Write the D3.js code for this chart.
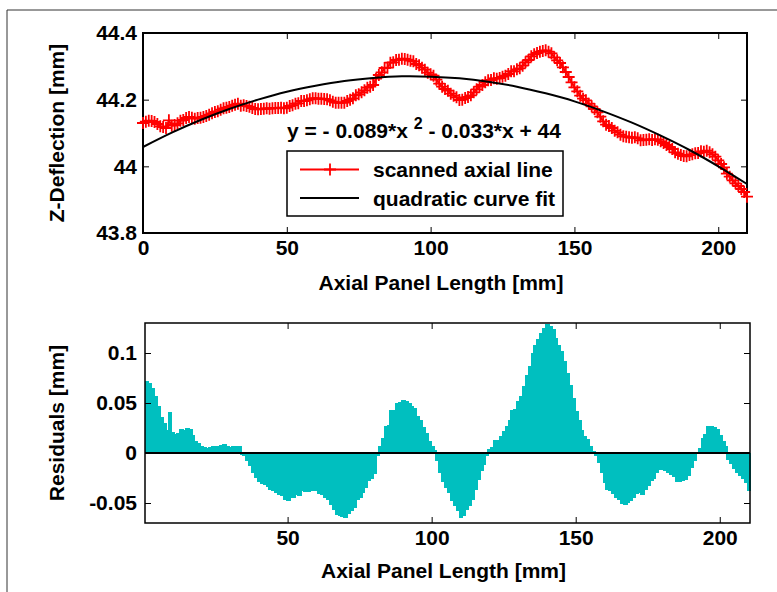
<!DOCTYPE html>
<html><head><meta charset="utf-8">
<script src="https://cdn.jsdelivr.net/npm/d3@7/dist/d3.min.js"></script>
<style>
body{margin:0;background:#fff;}
svg{display:block;}
text{font-family:"Liberation Sans",Arial,Helvetica,sans-serif;font-weight:bold;fill:#000;}
</style>
</head><body>
<svg id="chart" width="777" height="592"></svg>
<script>
// ---------- data ----------
// scanned axial line, x = 0..210 mm (1 mm step)
const scannedStart = 0;
const scanned = [
44.130,44.134,44.137,44.136,44.133,44.127,44.120,44.118,44.115,44.138,
44.122,44.124,44.129,44.137,44.139,44.145,44.148,44.146,44.143,44.145,
44.146,44.148,44.151,44.155,44.159,44.163,44.165,44.170,44.174,44.176,
44.178,44.182,44.185,44.188,44.182,44.183,44.181,44.179,44.175,44.172,
44.171,44.172,44.173,44.174,44.173,44.174,44.175,44.175,44.176,44.174,
44.176,44.181,44.183,44.188,44.189,44.196,44.196,44.198,44.201,44.204,
44.204,44.203,44.203,44.202,44.201,44.198,44.194,44.191,44.191,44.191,
44.191,44.196,44.200,44.204,44.213,44.216,44.222,44.228,44.236,44.239,
44.244,44.263,44.274,44.282,44.295,44.296,44.311,44.312,44.319,44.320,
44.323,44.322,44.320,44.317,44.315,44.307,44.303,44.296,44.290,44.281,
44.276,44.272,44.260,44.248,44.239,44.232,44.227,44.218,44.212,44.207,
44.199,44.200,44.205,44.208,44.213,44.222,44.231,44.239,44.244,44.252,
44.258,44.259,44.264,44.263,44.265,44.269,44.272,44.277,44.285,44.285,
44.291,44.294,44.302,44.312,44.319,44.330,44.336,44.340,44.344,44.346,
44.348,44.344,44.339,44.327,44.318,44.310,44.297,44.283,44.268,44.252,
44.237,44.225,44.212,44.203,44.198,44.188,44.180,44.172,44.162,44.149,
44.135,44.125,44.121,44.115,44.107,44.102,44.095,44.090,44.089,44.087,
44.086,44.087,44.084,44.078,44.079,44.080,44.081,44.079,44.081,44.080,
44.075,44.070,44.064,44.058,44.052,44.042,44.038,44.034,44.031,44.030,
44.034,44.036,44.039,44.040,44.045,44.044,44.047,44.042,44.036,44.029,
44.018,44.007,43.997,43.978,43.969,43.958,43.949,43.941,43.932,43.923,
43.909];

// quadratic curve fit, sampled every 10 mm
const fitX = [0,10,20,30,40,50,60,70,80,90,100,110,120,130,140,150,160,170,180,190,200,210];
const fitY = [44.058,44.101,44.139,44.172,44.200,44.224,44.242,44.256,44.265,44.270,44.269,
              44.264,44.254,44.239,44.219,44.195,44.165,44.131,44.092,44.049,44.000,43.947];

// residuals, bar index 1..210
const residualStart = 1;
const residuals = [
 .072, .070, .065, .057, .047, .036, .030, .023, .041, .021,
 .019, .020, .024, .023, .025, .024, .018, .012, .010, .007,
 .006, .005, .006, .007, .007, .006, .008, .009, .007, .006,
 .007, .007, .007,-.002,-.003,-.008,-.013,-.020,-.025,-.029,
-.031,-.032,-.034,-.037,-.038,-.040,-.042,-.043,-.047,-.048,
-.045,-.045,-.042,-.043,-.038,-.039,-.039,-.038,-.037,-.038,
-.041,-.042,-.045,-.047,-.052,-.057,-.062,-.063,-.064,-.065,
-.061,-.058,-.055,-.047,-.045,-.040,-.035,-.028,-.026,-.021,
-.003, .007, .015, .027, .028, .043, .043, .050, .051, .053,
 .052, .050, .047, .045, .037, .033, .026, .020, .012, .007,
 .003,-.008,-.020,-.029,-.035,-.040,-.048,-.053,-.058,-.065,
-.063,-.057,-.053,-.047,-.037,-.027,-.018,-.012,-.003, .004,
 .006, .013, .013, .017, .022, .027, .033, .043, .044, .052,
 .057, .067, .078, .087, .100, .108, .114, .120, .125, .129,
 .127, .124, .115, .108, .102, .092, .080, .068, .055, .042,
 .033, .023, .017, .014, .007, .002,-.003,-.010,-.020,-.030,
-.037,-.038,-.041,-.045,-.047,-.051,-.052,-.050,-.048,-.045,
-.041,-.040,-.042,-.037,-.033,-.028,-.026,-.020,-.017,-.017,
-.018,-.020,-.022,-.024,-.029,-.029,-.028,-.027,-.023,-.015,
-.008,-.001, .005, .015, .019, .027, .027, .026, .024, .018,
 .012, .007,-.007,-.011,-.016,-.020,-.023,-.026,-.030,-.038];

// ticks
const topXTicks = [0,50,100,150,200];
const topXLabels = ["0","50","100","150","200"];
const topYTicks = [43.8,44,44.2,44.4];
const topYLabels = ["43.8","44","44.2","44.4"];
const botXTicks = [50,100,150,200];
const botXLabels = ["50","100","150","200"];
const botYTicks = [-0.05,0,0.05,0.1];
const botYLabels = ["-0.05","0","0.05","0.1"];

const xTitle = "Axial Panel Length [mm]";
const topYTitle = "Z-Deflection [mm]";
const botYTitle = "Residuals [mm]";
const legendLabels = ["scanned axial line","quadratic curve fit"];

// ---------- drawing ----------
const svg = d3.select("#chart");
const FS = 21;

// outer frame
svg.append("path").attr("d","M7,592V10H777").attr("fill","none").attr("stroke","#333").attr("stroke-width",1);

const T = {l:143, r:747, t:33, b:233};
const B = {l:145, r:750, t:323, b:523};

const xT = d3.scaleLinear().domain([0,210]).range([T.l,T.r]);
const yT = d3.scaleLinear().domain([43.8,44.4]).range([T.b,T.t]);
const xB = d3.scaleLinear().domain([0.5,210.5]).range([B.l,B.r]);
const yB = d3.scaleLinear().domain([-0.07,0.13]).range([B.b,B.t]);

function axes(g, P, x, y, xt, xl, yt, yl, boxW, padX, padY){
  const styl = s => { s.select(".domain").remove();
    s.selectAll(".tick line").attr("stroke","#000").attr("stroke-width",1);
    s.selectAll(".tick text").style("font-size",FS+"px").attr("font-family",null); };
  g.append("g").attr("transform",`translate(0,${P.b})`)
   .call(d3.axisBottom(x).tickValues(xt).tickFormat((d,i)=>xl[i]).tickSize(-6).tickPadding(padX)).call(styl);
  g.append("g").attr("transform",`translate(0,${P.t})`)
   .call(d3.axisTop(x).tickValues(xt).tickFormat("").tickSize(-6)).call(styl);
  g.append("g").attr("transform",`translate(${P.l},0)`)
   .call(d3.axisLeft(y).tickValues(yt).tickFormat((d,i)=>yl[i]).tickSize(-6).tickPadding(padY)).call(styl);
  g.append("g").attr("transform",`translate(${P.r},0)`)
   .call(d3.axisRight(y).tickValues(yt).tickFormat("").tickSize(-6)).call(styl);
  g.selectAll("text").attr("fill","#000");
  g.append("rect").attr("x",P.l).attr("y",P.t).attr("width",P.r-P.l).attr("height",P.b-P.t)
   .attr("fill","none").attr("stroke","#000").attr("stroke-width",boxW);
}

// ---- top panel ----
const gT = svg.append("g");
axes(gT, T, xT, yT, topXTicks, topXLabels, topYTicks, topYLabels, 2, 7, 6);

const scanData = scanned.map((v,i)=>({x:scannedStart+i, y:v}));
gT.append("path").datum(scanData)
  .attr("d", d3.line().x(d=>xT(d.x)).y(d=>yT(d.y)))
  .attr("fill","none").attr("stroke","#ff0000").attr("stroke-width",2);
const plus = "M-6,0H6M0,-6V6";
gT.append("g").selectAll("path").data(scanData).join("path")
  .attr("transform",d=>`translate(${xT(d.x)},${yT(d.y)})`)
  .attr("d",plus).attr("stroke","#ff0000").attr("stroke-width",1.8).attr("fill","none");

const fitData = fitX.map((x,i)=>({x, y:fitY[i]}));
gT.append("path").datum(fitData)
  .attr("d", d3.line().curve(d3.curveNatural).x(d=>xT(d.x)).y(d=>yT(d.y)))
  .attr("fill","none").attr("stroke","#000").attr("stroke-width",2);

// equation
const eq = gT.append("text").attr("x",287).attr("y",138).style("font-size",FS+"px");
eq.append("tspan").text("y = - 0.089*x ");
eq.append("tspan").attr("dy",-9).style("font-size","16px").text("2");
eq.append("tspan").attr("dy",9).text(" - 0.033*x + 44");

// legend
const lg = gT.append("g");
lg.append("rect").attr("x",287).attr("y",151).attr("width",276).attr("height",65)
  .attr("fill","#fff").attr("stroke","#000").attr("stroke-width",1.5);
lg.append("line").attr("x1",300).attr("x2",359).attr("y1",169.5).attr("y2",169.5)
  .attr("stroke","#ff0000").attr("stroke-width",2);
lg.append("path").attr("transform","translate(330,169.5)").attr("d",plus)
  .attr("stroke","#ff0000").attr("stroke-width",1.8);
lg.append("line").attr("x1",300).attr("x2",359).attr("y1",198).attr("y2",198)
  .attr("stroke","#000").attr("stroke-width",2);
lg.append("text").attr("x",373).attr("y",177).style("font-size",FS+"px").text(legendLabels[0]);
lg.append("text").attr("x",373).attr("y",205.5).style("font-size",FS+"px").text(legendLabels[1]);

// titles
gT.append("text").attr("x",(T.l+T.r)/2 - 4).attr("y",290).attr("text-anchor","middle")
  .style("font-size",FS+"px").text(xTitle);
gT.append("text").attr("transform",`translate(64,${(T.t+T.b)/2}) rotate(-90)`).attr("text-anchor","middle")
  .style("font-size",FS+"px").text(topYTitle);

// ---- bottom panel ----
const gB = svg.append("g");
const resData = residuals.map((v,i)=>({x:residualStart+i, y:v}));
gB.append("g").attr("shape-rendering","crispEdges").selectAll("rect").data(resData).join("rect")
  .attr("x",d=>Math.floor(xB(d.x-0.5)))
  .attr("width",d=>Math.ceil(xB(d.x+0.5)-Math.floor(xB(d.x-0.5)))+1)
  .attr("y",d=>yB(Math.max(0,d.y)))
  .attr("height",d=>Math.abs(yB(d.y)-yB(0)))
  .attr("fill","#00bfbf");
gB.append("line").attr("x1",B.l).attr("x2",B.r).attr("y1",yB(0)).attr("y2",yB(0))
  .attr("stroke","#000").attr("stroke-width",2);
axes(gB, B, xB, yB, botXTicks, botXLabels, botYTicks, botYLabels, 1.5, 7, 8);

gB.append("text").attr("x",(B.l+B.r)/2 - 4).attr("y",578).attr("text-anchor","middle")
  .style("font-size",FS+"px").text(xTitle);
gB.append("text").attr("transform",`translate(64,${(B.t+B.b)/2}) rotate(-90)`).attr("text-anchor","middle")
  .style("font-size",FS+"px").text(botYTitle);
</script>
</body></html>
